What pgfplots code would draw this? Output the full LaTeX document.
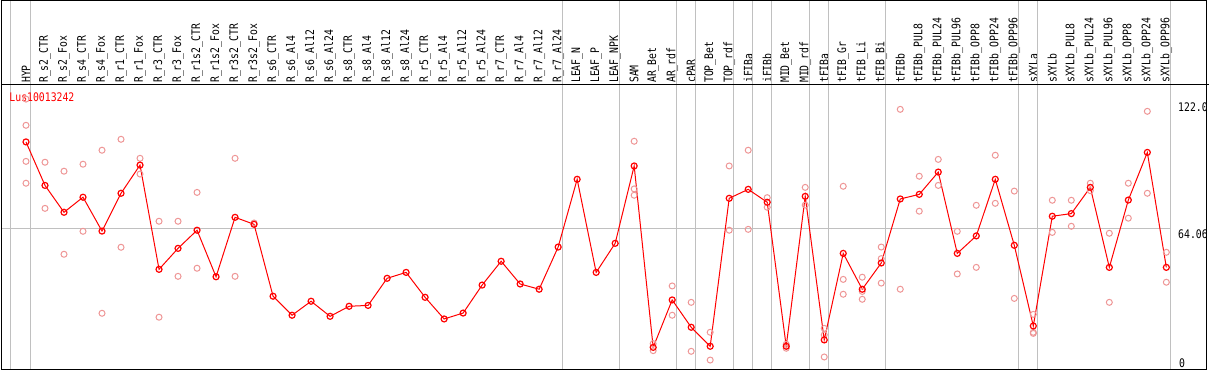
\documentclass[border=0pt]{standalone}
\usepackage{fontspec}
\usepackage{pgfplots}
\pgfplotsset{compat=1.18}
\usepackage{pgfplotstable}
\newfontfamily\labfont[FakeStretch=0.83]{DejaVu Sans Mono}
\newcommand{\lf}{\labfont\fontsize{11.8bp}{12bp}\selectfont}
\definecolor{sep}{RGB}{192,192,192}
\definecolor{rep}{RGB}{238,150,150}

\pgfplotstableread{
x y
0 103.9
1 84.0
2 71.7
3 78.6
4 63.1
5 80.4
6 93.3
7 45.6
8 55.2
9 63.5
10 42.2
11 69.4
12 66.2
13 33.3
14 24.6
15 31.0
16 24.1
17 28.7
18 29.1
19 41.5
20 44.2
21 32.8
22 22.9
23 25.6
24 38.4
25 49.3
26 38.9
27 36.5
28 55.8
29 86.8
30 44.2
31 57.5
32 92.9
33 9.9
34 31.6
35 19.1
36 10.4
37 78.1
38 82.2
39 76.3
40 10.4
41 79.0
42 13.3
43 52.9
44 36.5
45 48.5
46 77.8
47 79.9
48 90.1
49 52.9
50 60.9
51 86.8
52 56.6
53 19.7
54 69.9
55 71.1
56 83.1
57 46.5
58 77.3
59 99.1
60 46.5
}\meantab

\pgfplotstableread{
x y
0 123.5
0 111.5
0 95.0
0 85.0
1 94.6
1 73.5
2 90.5
2 52.5
3 93.7
3 63.0
4 100.1
4 25.5
5 105.1
5 55.7
6 96.4
6 89.2
7 67.6
7 23.7
8 67.6
8 42.4
9 80.8
9 46.1
11 96.4
11 42.4
12 66.8
32 104.2
32 82.4
32 79.5
33 11.6
33 8.4
34 38.0
34 24.6
35 30.5
35 8.1
36 16.8
36 4.1
37 92.9
37 63.5
38 100.1
38 63.9
39 78.4
39 74.0
40 11.3
40 9.5
41 83.1
41 75.0
42 18.6
42 15.6
42 5.5
43 83.6
43 41.0
43 34.2
44 42.0
44 31.9
44 35.5
45 55.8
45 50.5
45 39.3
46 118.8
46 36.5
47 88.2
47 72.2
48 95.9
48 84.0
49 63.0
49 43.5
50 74.9
50 46.5
51 97.8
51 75.8
52 81.4
52 32.3
53 25.0
53 16.8
53 16.3
54 77.2
54 62.5
55 77.2
55 65.3
56 85.0
56 81.6
57 62.1
57 30.5
58 85.0
58 69.0
59 117.9
59 80.4
60 53.4
60 39.7
}\reptab

\begin{document}
\begin{tikzpicture}
\begin{axis}[
  scale only axis, width=1169.7bp, height=284bp,
  xmin=-1.315, xmax=60.23, ymin=0, ymax=129.94,
  axis line style={draw=none},
  clip=false,
  xtick={0,...,60},
  xticklabels={HYP,R\_s2\_CTR,R\_s2\_Fox,R\_s4\_CTR,R\_s4\_Fox,R\_r1\_CTR,R\_r1\_Fox,R\_r3\_CTR,R\_r3\_Fox,R\_r1s2\_CTR,R\_r1s2\_Fox,R\_r3s2\_CTR,R\_r3s2\_Fox,R\_s6\_CTR,R\_s6\_Al4,R\_s6\_Al12,R\_s6\_Al24,R\_s8\_CTR,R\_s8\_Al4,R\_s8\_Al12,R\_s8\_Al24,R\_r5\_CTR,R\_r5\_Al4,R\_r5\_Al12,R\_r5\_Al24,R\_r7\_CTR,R\_r7\_Al4,R\_r7\_Al12,R\_r7\_Al24,LEAF\_N,LEAF\_P,LEAF\_NPK,SAM,AR\_Bet,AR\_rdf,cPAR,TOP\_Bet,TOP\_rdf,iFIBa,iFIBb,MID\_Bet,MID\_rdf,tFIBa,tFIB\_Gr,tFIB\_Li,tFIB\_Bi,tFIBb,tFIBb\_PUL8,tFIBb\_PUL24,tFIBb\_PUL96,tFIBb\_OPP8,tFIBb\_OPP24,tFIBb\_OPP96,sXYLa,sXYLb,sXYLb\_PUL8,sXYLb\_PUL24,sXYLb\_PUL96,sXYLb\_OPP8,sXYLb\_OPP24,sXYLb\_OPP96},
  xticklabel pos=upper,
  xticklabel style={rotate=90, anchor=west, inner sep=0pt, font=\lf},
  xticklabel shift=2bp,
  major tick length=0pt,
  ytick=\empty,
]
\draw[sep, line width=1bp] (axis cs:-1.315,64.06) -- (axis cs:60.23,64.06);
\pgfplotsinvokeforeach{-0.8,0.22,28.22,31.22,34.22,35.22,37.22,38.22,39.22,41.22,42.22,45.22,52.22,53.22,60.22}{
  \draw[sep, line width=1bp] (axis cs:#1,0) -- ([yshift=84.5bp]axis cs:#1,129.94);
}
\addplot[only marks, mark=o, mark size=3bp, rep, mark options={line width=1bp}] table[x=x,y=y] {\reptab};
\addplot[red, line width=1bp, mark=o, mark size=3bp, mark options={line width=1.2bp}] table[x=x,y=y] {\meantab};
\node[anchor=base west, inner sep=0pt, text=red, font=\lf] at ([xshift=8.3bp,yshift=-16.7bp]rel axis cs:0,1) {Lus10013242};
\node[anchor=north west, inner sep=0pt, font=\lf] at ([xshift=7.3bp,yshift=-0.6bp]axis cs:60.23,122) {122.0};
\node[anchor=north west, inner sep=0pt, font=\lf] at ([xshift=7.3bp,yshift=-1bp]axis cs:60.23,64.06) {64.06};
\node[anchor=north west, inner sep=0pt, font=\lf] at ([xshift=8.3bp,yshift=10bp]axis cs:60.23,0) {0};
\coordinate (SW) at (rel axis cs:0,0);
\coordinate (NE) at (rel axis cs:1,1);
\end{axis}
\draw[line width=1bp] (SW) rectangle ([shift={(36bp,84.5bp)}]NE);
\draw[line width=1bp] (SW |- NE) -- ([xshift=38.3bp]NE);
\pgfresetboundingbox
\useasboundingbox ([shift={(-1bp,-1bp)}]SW) rectangle ([shift={(38.3bp,85bp)}]NE);
\end{tikzpicture}
\end{document}
